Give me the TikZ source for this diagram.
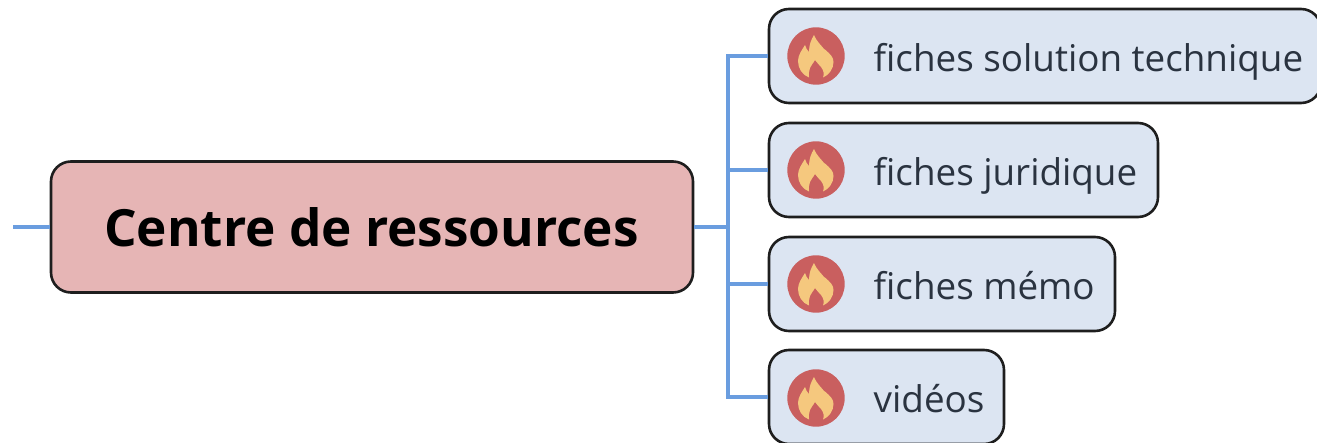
\documentclass[tikz,border=0pt]{standalone}
\usepackage{fontspec}
\setmainfont{Open Sans}
\definecolor{linkblue}{HTML}{6A9DDF}
\definecolor{rootfill}{HTML}{E6B5B5}
\definecolor{leaffill}{HTML}{DCE5F2}
\definecolor{edgeink}{HTML}{1E1E1E}
\definecolor{flamered}{HTML}{C95F5F}
\definecolor{flameyel}{HTML}{F5C87E}
\definecolor{leafink}{HTML}{2A3340}
\tikzset{
  x=1pt,y=-1pt,
  rootbox/.style={draw=edgeink,line width=2.6pt,fill=rootfill,rounded corners=20pt,inner sep=0pt,
    minimum width=642pt,minimum height=131pt},
  leafbox/.style={draw=edgeink,line width=2.6pt,fill=leaffill,rounded corners=20pt,inner sep=0pt,minimum height=94pt},
  leaftext/.style={anchor=base west,inner sep=0pt,text=leafink,font=\fontsize{36.8}{44}\selectfont},
  link/.style={draw=linkblue,line width=3.2pt},
  flame/.pic={
    \fill[flamered] (0,0) circle[radius=28.7];
    \fill[flameyel] (-7,21.5) .. controls (-14,19) and (-18,12) .. (-18,5)
      .. controls (-18,-1) and (-14,-6) .. (-11,-11)
      .. controls (-10,-8) and (-9,-6) .. (-7,-4)
      .. controls (-7,-11) and (-5,-16) .. (-2,-21)
      .. controls (1,-14) and (5,-11) .. (8,-7)
      .. controls (9,-6) and (9,-6) .. (9.5,-6)
      .. controls (14,-2) and (17.5,1) .. (17.5,6)
      .. controls (17.5,13) and (13,19) .. (7,21.5)
      .. controls (8.5,18) and (7.5,14) .. (5,11)
      .. controls (3,8.5) and (1,7) .. (-1,4)
      .. controls (-3,7.5) and (-5,9.5) .. (-6,12)
      .. controls (-7,15) and (-7.5,18) .. (-7,21.5) -- cycle;
  }
}
\begin{document}
\begin{tikzpicture}
\useasboundingbox (0,0) rectangle (1317,443);
\clip (0,0) rectangle (1317,443);
\coordinate (stub) at (13,227);
\coordinate (trunk) at (728,227);
\node[rootbox] (root) at (372,227) {};
\node[leafbox,minimum width=552pt] (a) at (1045,56) {};
\node[leafbox,minimum width=389pt] (b) at (963.5,170) {};
\node[leafbox,minimum width=346pt] (c) at (942,284) {};
\node[leafbox,minimum width=235pt] (d) at (886.5,397) {};
\draw[link] (stub) -- (root.west);
\draw[link] (root.east) -- (trunk);
\draw[link] (trunk) |- (a.west);
\draw[link] (trunk) |- (b.west);
\draw[link] (trunk) |- (c.west);
\draw[link] (trunk) |- (d.west);
\node[inner sep=0pt,text=black,font=\fontsize{51.3}{60}\selectfont\bfseries] (roott) at (371.5,227) {Centre de ressources};
\pic at (816,56) {flame};
\pic at (816,170) {flame};
\pic at (816,284) {flame};
\pic at (816,398) {flame};
\node[leaftext] (ta) at (873.5,71.5) {fiches solution technique};
\node[leaftext] (tb) at (873.5,185.5) {fiches juridique};
\node[leaftext] (tc) at (873.5,299.5) {fiches mémo};
\node[leaftext] (td) at (873.5,413) {vidéos};
\end{tikzpicture}
\end{document}
